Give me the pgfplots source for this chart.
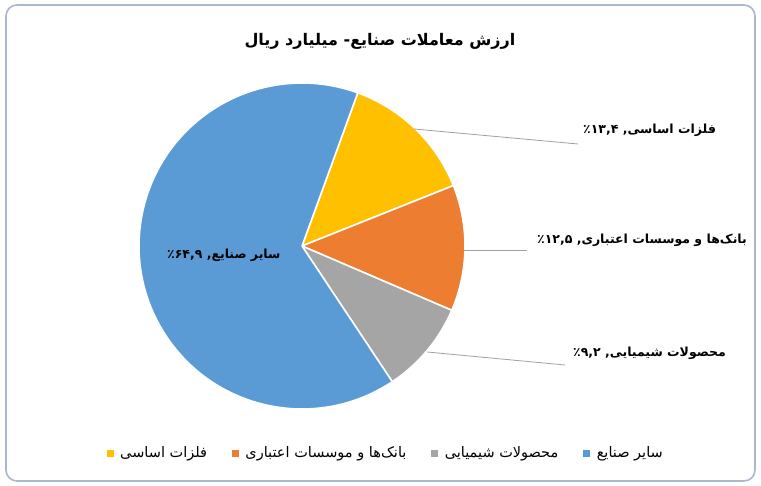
\documentclass[border=0pt]{standalone}
\usepackage{fontspec}
\usepackage{pgfplots}
\usepackage{pgfplotstable}
\pgfplotsset{compat=1.18}
\TeXXeTstate=1
\newfontfamily\arabicfont[Script=Arabic]{DejaVu Sans}
\definecolor{pieY}{HTML}{FFC000}
\definecolor{pieO}{HTML}{ED7D31}
\definecolor{pieG}{HTML}{A5A5A5}
\definecolor{pieB}{HTML}{5B9BD5}
\definecolor{frame}{HTML}{A7B8CF}
\definecolor{leader}{HTML}{A0A0A0}

% shares in percent, clockwise from the first slice
\pgfplotstableread{
share color
13.4 pieY
12.5 pieO
9.2 pieG
64.9 pieB
}\piedata

\begin{document}
\begin{tikzpicture}
\begin{axis}[
    hide axis, scale only axis,
    width=761pt, height=486pt,
    xmin=0, xmax=761, ymin=0, ymax=486,
    enlargelimits=false, clip=false,
    legend columns=4,
    legend style={draw=none, fill=none, at={(0.507,0.068)}, anchor=center,
        font=\arabicfont\fontsize{14.5}{16}\selectfont,
        /tikz/every odd column/.append style={column sep=5pt},
        /tikz/every even column/.append style={column sep=23pt}},
    legend image code/.code={\fill[#1] (0pt,-3pt) rectangle (6pt,3pt);},
]
\path (axis cs:0,0) rectangle (axis cs:761,486);
\draw[frame, line width=1.6pt, rounded corners=11pt] (axis cs:6,5) rectangle (axis cs:755,481);

\xdef\startang{70}
\pgfplotsinvokeforeach{0,...,3}{
  \pgfplotstablegetelem{#1}{share}\of\piedata \let\val\pgfplotsretval
  \pgfplotstablegetelem{#1}{color}\of\piedata \let\col\pgfplotsretval
  \pgfmathsetmacro\endang{\startang-3.6*\val}
  \edef\temp{\noexpand\fill[\col, draw=white, line width=1.6pt, line join=round]
    (axis cs:302,240) -- ([shift={(\startang:163pt)}]axis cs:302,240)
    arc[start angle=\startang, end angle=\endang, radius=163pt] -- cycle;}
  \temp
  \xdef\startang{\endang}
}

% title
\node[font=\arabicfont\bfseries\fontsize{16}{18}\selectfont] at (axis cs:380,445)
  {\beginR ارزش معاملات صنایع- میلیارد ریال\endR};

% leader lines
\draw[leader, line width=0.8pt] (axis cs:414,357) -- (axis cs:578,342);
\draw[leader, line width=0.8pt] (axis cs:464,236) -- (axis cs:527,236);
\draw[leader, line width=0.8pt] (axis cs:427,134) -- (axis cs:565,121);

% data labels
\begin{scope}[every node/.style={font=\arabicfont\bfseries\fontsize{12.5}{14}\selectfont, inner sep=0pt}]
\node[anchor=west] at (axis cs:583,356) {\beginR فلزات اساسی, ٪۱۳,۴\endR};
\node[anchor=west] at (axis cs:537,246) {\beginR بانک‌ها و موسسات اعتباری, ٪۱۲,۵\endR};
\node[anchor=west] at (axis cs:573,133) {\beginR محصولات شیمیایی, ٪۹,۲\endR};
\node[anchor=west] at (axis cs:167,231) {\beginR سایر صنایع, ٪۶۴,۹\endR};
\end{scope}

\addlegendimage{pieY}
\addlegendentry{\beginR فلزات اساسی\endR}
\addlegendimage{pieO}
\addlegendentry{\beginR بانک‌ها و موسسات اعتباری\endR}
\addlegendimage{pieG}
\addlegendentry{\beginR محصولات شیمیایی\endR}
\addlegendimage{pieB}
\addlegendentry{\beginR سایر صنایع\endR}
\end{axis}
\end{tikzpicture}
\end{document}
